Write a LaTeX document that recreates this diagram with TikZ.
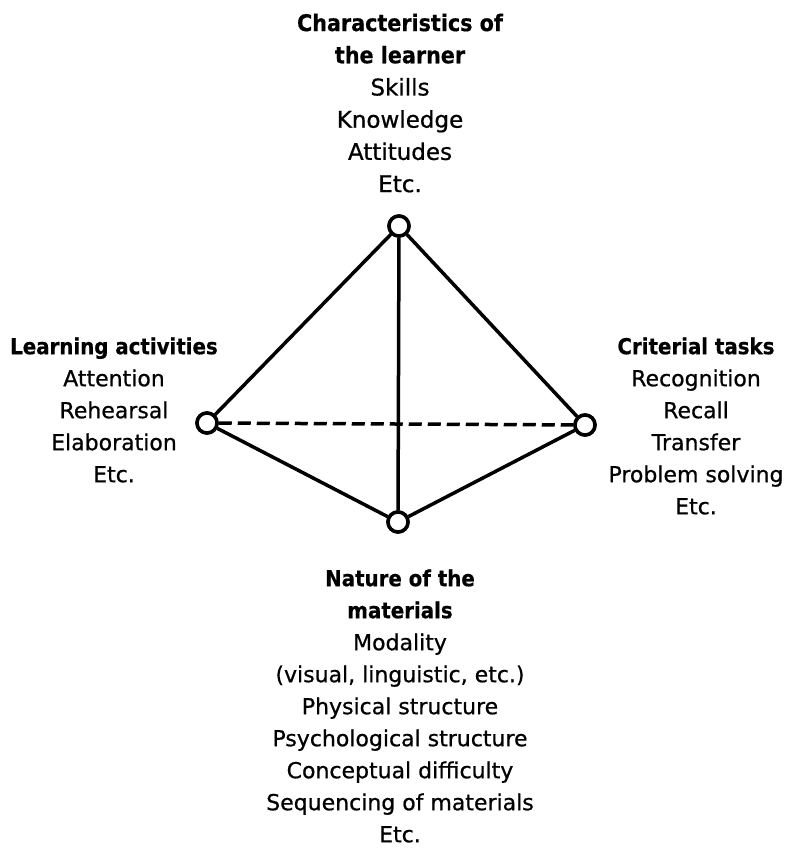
\documentclass[tikz,border=0pt]{standalone}
\usepackage{fontspec}
\setmainfont[FakeBold=0.7]{DejaVu Sans}
\newfontfamily\hdfont[FakeBold=0.5]{DejaVu Sans Condensed Bold}
\begin{document}
\begin{tikzpicture}[x=1pt,y=-1pt,
  vtx/.style={circle,draw,line width=3.5pt,fill=white,minimum size=20pt,inner sep=0pt},
  edge/.style={line width=3.5pt},
  lbl/.style={align=center,font=\fontsize{22}{32}\selectfont,inner sep=0pt},
  toplbl/.style={align=center,font=\fontsize{23}{32.2}\selectfont,inner sep=0pt}]
\newcommand{\hd}[1]{{\hdfont #1}}
\useasboundingbox (0,0) rectangle (800,854);
\node[vtx] (T) at (399,226) {};
\node[vtx] (L) at (207,423) {};
\node[vtx] (R) at (585,425) {};
\node[vtx] (B) at (398,522) {};
\draw[edge] (T) -- (L);
\draw[edge] (T) -- (R);
\draw[edge] (T) -- (B);
\draw[edge] (L) -- (B);
\draw[edge] (R) -- (B);
\draw[edge,dash pattern=on 13pt off 6pt] (L) -- (R);
\node[vtx] at (T) {};
\node[vtx] at (L) {};
\node[vtx] at (R) {};
\node[vtx] at (B) {};
\node[toplbl] (tl) at (400,103) {\hd{Characteristics of}\\\hd{the learner}\\Skills\\Knowledge\\Attitudes\\Etc.};
\node[lbl] (ll) at (114,410) {\hd{Learning activities}\\Attention\\Rehearsal\\Elaboration\\Etc.};
\node[lbl] (rl) at (696,426) {\hd{Criterial tasks}\\Recognition\\Recall\\Transfer\\Problem solving\\Etc.};
\node[lbl] (bl) at (400,706) {\hd{Nature of the}\\\hd{materials}\\Modality\\(visual, linguistic, etc.)\\Physical structure\\Psychological structure\\Conceptual difficulty\\Sequencing of materials\\Etc.};
\end{tikzpicture}
\end{document}
